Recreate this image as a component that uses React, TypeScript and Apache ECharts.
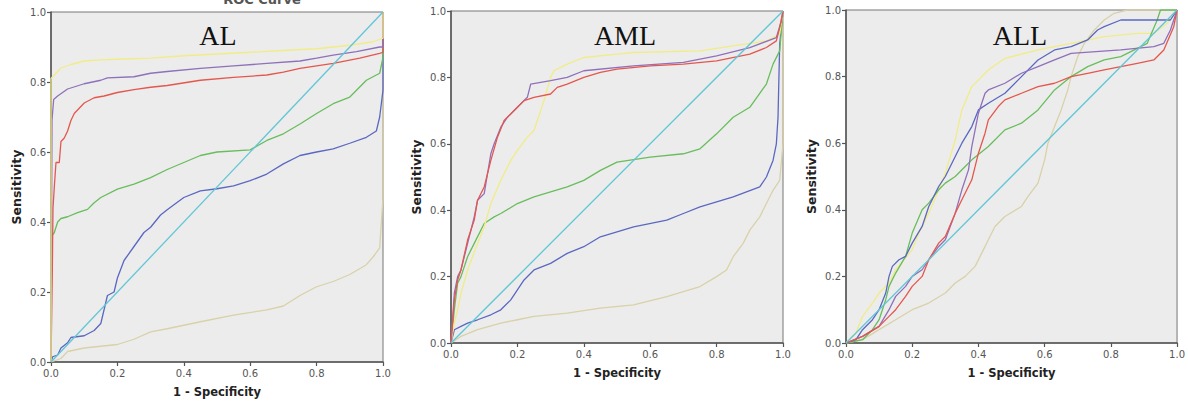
import React, { useEffect, useRef } from "react";
import * as echarts from "echarts";

const PANEL_TITLES = ["AL", "AML", "ALL"];
const TOP_CAPTION = "ROC Curve";
const X_NAME = "1 - Specificity";
const Y_NAME = "Sensitivity";
const TICK_INTERVAL = 0.2;

const DIAG = [[0, 0], [1, 1]];

// ---- AL ----
const AL_YELLOW = [[0, 0], [0, 0.81], [0.01, 0.82], [0.03, 0.84], [0.06, 0.85], [0.1, 0.86], [0.15, 0.863], [0.2, 0.865], [0.3, 0.868], [0.4, 0.875], [0.5, 0.88], [0.6, 0.885], [0.7, 0.89], [0.8, 0.895], [0.9, 0.905], [0.97, 0.915], [1, 0.925], [1, 1]];
const AL_PURPLE = [[0, 0], [0.003, 0.69], [0.008, 0.75], [0.02, 0.76], [0.05, 0.78], [0.1, 0.795], [0.15, 0.805], [0.17, 0.812], [0.25, 0.815], [0.3, 0.825], [0.35, 0.83], [0.45, 0.839], [0.55, 0.846], [0.65, 0.853], [0.75, 0.86], [0.8, 0.868], [0.85, 0.877], [0.92, 0.887], [0.99, 0.9], [1, 0.9], [1, 1]];
const AL_RED = [[0, 0], [0.004, 0.26], [0.006, 0.44], [0.01, 0.5], [0.015, 0.57], [0.025, 0.57], [0.03, 0.63], [0.04, 0.64], [0.05, 0.66], [0.06, 0.69], [0.07, 0.71], [0.08, 0.72], [0.1, 0.74], [0.13, 0.755], [0.16, 0.76], [0.2, 0.77], [0.25, 0.778], [0.3, 0.785], [0.35, 0.79], [0.45, 0.805], [0.55, 0.813], [0.65, 0.82], [0.7, 0.828], [0.75, 0.839], [0.85, 0.853], [0.93, 0.868], [0.99, 0.882], [1, 0.885], [1, 1]];
const AL_GREEN = [[0, 0], [0.002, 0.36], [0.01, 0.37], [0.02, 0.4], [0.03, 0.41], [0.05, 0.415], [0.08, 0.427], [0.11, 0.436], [0.13, 0.455], [0.15, 0.47], [0.2, 0.494], [0.25, 0.508], [0.3, 0.527], [0.35, 0.55], [0.4, 0.57], [0.45, 0.59], [0.5, 0.6], [0.6, 0.606], [0.65, 0.633], [0.7, 0.652], [0.75, 0.68], [0.8, 0.71], [0.85, 0.738], [0.9, 0.757], [0.95, 0.805], [0.99, 0.825], [1, 0.87], [1, 1]];
const AL_BLUE = [[0, 0], [0.005, 0.015], [0.02, 0.02], [0.03, 0.04], [0.05, 0.055], [0.06, 0.07], [0.1, 0.075], [0.13, 0.09], [0.15, 0.11], [0.16, 0.15], [0.17, 0.19], [0.19, 0.2], [0.2, 0.24], [0.22, 0.29], [0.25, 0.33], [0.28, 0.37], [0.3, 0.385], [0.33, 0.42], [0.35, 0.435], [0.4, 0.47], [0.45, 0.489], [0.5, 0.495], [0.55, 0.503], [0.6, 0.518], [0.65, 0.537], [0.7, 0.566], [0.75, 0.59], [0.8, 0.6], [0.85, 0.609], [0.9, 0.625], [0.95, 0.642], [0.98, 0.66], [0.99, 0.7], [1, 0.777], [1, 1]];
const AL_TAN = [[0, 0], [0.03, 0.01], [0.05, 0.03], [0.1, 0.04], [0.2, 0.05], [0.25, 0.065], [0.3, 0.086], [0.35, 0.095], [0.4, 0.105], [0.45, 0.115], [0.55, 0.134], [0.65, 0.149], [0.7, 0.16], [0.75, 0.19], [0.8, 0.215], [0.85, 0.23], [0.9, 0.25], [0.95, 0.278], [0.97, 0.3], [0.99, 0.326], [1, 0.47], [1, 1]];

// ---- AML ----
const AML_YELLOW = [[0, 0], [0.01, 0.06], [0.02, 0.1], [0.03, 0.15], [0.05, 0.22], [0.08, 0.3], [0.1, 0.35], [0.12, 0.42], [0.15, 0.49], [0.18, 0.55], [0.2, 0.58], [0.23, 0.62], [0.25, 0.64], [0.27, 0.7], [0.28, 0.73], [0.3, 0.8], [0.31, 0.82], [0.35, 0.84], [0.4, 0.86], [0.5, 0.87], [0.55, 0.875], [0.75, 0.88], [0.85, 0.895], [0.95, 0.91], [0.99, 0.93], [1, 1]];
const AML_PURPLE = [[0, 0], [0.01, 0.15], [0.02, 0.2], [0.03, 0.22], [0.05, 0.3], [0.07, 0.38], [0.08, 0.43], [0.1, 0.45], [0.12, 0.57], [0.13, 0.6], [0.15, 0.65], [0.17, 0.68], [0.2, 0.71], [0.23, 0.74], [0.24, 0.78], [0.3, 0.79], [0.35, 0.8], [0.4, 0.82], [0.55, 0.835], [0.7, 0.845], [0.8, 0.865], [0.9, 0.89], [0.98, 0.92], [0.995, 0.97], [1, 1]];
const AML_RED = [[0, 0], [0.01, 0.13], [0.02, 0.19], [0.03, 0.22], [0.05, 0.31], [0.07, 0.37], [0.08, 0.43], [0.1, 0.47], [0.12, 0.55], [0.14, 0.62], [0.16, 0.67], [0.18, 0.69], [0.2, 0.71], [0.22, 0.73], [0.25, 0.74], [0.3, 0.75], [0.32, 0.77], [0.35, 0.78], [0.4, 0.8], [0.45, 0.815], [0.5, 0.825], [0.6, 0.835], [0.7, 0.84], [0.8, 0.85], [0.9, 0.87], [0.95, 0.89], [0.98, 0.91], [0.99, 0.95], [1, 1]];
const AML_GREEN = [[0, 0], [0.01, 0.1], [0.02, 0.18], [0.03, 0.2], [0.05, 0.26], [0.07, 0.3], [0.1, 0.36], [0.13, 0.38], [0.15, 0.39], [0.2, 0.42], [0.25, 0.44], [0.3, 0.455], [0.35, 0.47], [0.4, 0.49], [0.45, 0.52], [0.5, 0.545], [0.6, 0.56], [0.7, 0.57], [0.75, 0.585], [0.8, 0.63], [0.85, 0.68], [0.9, 0.71], [0.95, 0.78], [0.97, 0.84], [0.99, 0.88], [1, 1]];
const AML_BLUE = [[0, 0], [0.01, 0.04], [0.03, 0.05], [0.05, 0.06], [0.08, 0.07], [0.12, 0.085], [0.15, 0.1], [0.18, 0.13], [0.2, 0.16], [0.22, 0.19], [0.25, 0.22], [0.3, 0.24], [0.35, 0.27], [0.4, 0.29], [0.45, 0.32], [0.55, 0.35], [0.65, 0.37], [0.7, 0.39], [0.75, 0.41], [0.85, 0.44], [0.93, 0.47], [0.95, 0.5], [0.97, 0.55], [0.98, 0.6], [0.985, 0.68], [0.99, 0.9], [1, 1]];
const AML_TAN = [[0, 0], [0.03, 0.02], [0.08, 0.04], [0.15, 0.06], [0.2, 0.07], [0.25, 0.08], [0.35, 0.09], [0.45, 0.105], [0.55, 0.115], [0.65, 0.14], [0.75, 0.17], [0.8, 0.2], [0.83, 0.22], [0.85, 0.26], [0.88, 0.3], [0.9, 0.34], [0.93, 0.38], [0.95, 0.42], [0.97, 0.46], [0.99, 0.49], [1, 0.6], [1, 1]];

// ---- ALL ----
const ALL_YELLOW = [[0, 0], [0.03, 0.03], [0.05, 0.08], [0.08, 0.12], [0.1, 0.15], [0.13, 0.18], [0.15, 0.22], [0.2, 0.28], [0.22, 0.33], [0.25, 0.39], [0.28, 0.46], [0.3, 0.51], [0.33, 0.61], [0.35, 0.7], [0.38, 0.77], [0.43, 0.82], [0.48, 0.855], [0.58, 0.88], [0.68, 0.9], [0.78, 0.92], [0.88, 0.93], [0.93, 0.93], [0.97, 0.96], [1, 1]];
const ALL_BLUE = [[0, 0], [0.03, 0.01], [0.05, 0.04], [0.08, 0.07], [0.1, 0.1], [0.12, 0.15], [0.13, 0.2], [0.14, 0.23], [0.16, 0.25], [0.18, 0.26], [0.2, 0.3], [0.23, 0.35], [0.25, 0.41], [0.28, 0.47], [0.3, 0.5], [0.33, 0.56], [0.35, 0.6], [0.38, 0.65], [0.4, 0.7], [0.43, 0.72], [0.48, 0.75], [0.53, 0.8], [0.58, 0.85], [0.63, 0.88], [0.68, 0.89], [0.73, 0.91], [0.76, 0.94], [0.78, 0.95], [0.83, 0.97], [0.98, 0.97], [1, 1]];
const ALL_PURPLE = [[0, 0], [0.05, 0.02], [0.1, 0.05], [0.13, 0.1], [0.15, 0.14], [0.18, 0.17], [0.2, 0.2], [0.23, 0.22], [0.25, 0.25], [0.28, 0.29], [0.3, 0.31], [0.33, 0.39], [0.35, 0.46], [0.37, 0.52], [0.38, 0.59], [0.4, 0.69], [0.42, 0.75], [0.43, 0.76], [0.48, 0.78], [0.53, 0.81], [0.58, 0.83], [0.63, 0.85], [0.68, 0.87], [0.83, 0.88], [0.93, 0.89], [0.96, 0.9], [0.98, 0.94], [1, 1]];
const ALL_RED = [[0, 0], [0.05, 0.02], [0.1, 0.05], [0.13, 0.08], [0.15, 0.1], [0.18, 0.14], [0.2, 0.17], [0.23, 0.2], [0.25, 0.25], [0.28, 0.3], [0.3, 0.32], [0.33, 0.39], [0.35, 0.43], [0.38, 0.49], [0.4, 0.57], [0.42, 0.63], [0.43, 0.67], [0.46, 0.71], [0.48, 0.73], [0.53, 0.75], [0.58, 0.77], [0.63, 0.78], [0.68, 0.8], [0.73, 0.81], [0.78, 0.82], [0.83, 0.83], [0.88, 0.84], [0.93, 0.85], [0.96, 0.88], [0.99, 0.95], [1, 1]];
const ALL_GREEN = [[0, 0], [0.05, 0.01], [0.08, 0.04], [0.1, 0.07], [0.12, 0.13], [0.13, 0.17], [0.15, 0.21], [0.18, 0.26], [0.2, 0.33], [0.23, 0.4], [0.25, 0.42], [0.28, 0.46], [0.3, 0.48], [0.33, 0.5], [0.36, 0.53], [0.38, 0.55], [0.43, 0.59], [0.48, 0.64], [0.53, 0.66], [0.58, 0.7], [0.63, 0.76], [0.68, 0.8], [0.73, 0.83], [0.78, 0.85], [0.83, 0.86], [0.88, 0.885], [0.91, 0.9], [0.94, 0.97], [0.95, 1], [1, 1]];
const ALL_TAN = [[0, 0], [0.05, 0.01], [0.1, 0.04], [0.15, 0.07], [0.2, 0.1], [0.25, 0.12], [0.3, 0.15], [0.33, 0.18], [0.36, 0.2], [0.39, 0.23], [0.41, 0.27], [0.43, 0.31], [0.45, 0.35], [0.48, 0.38], [0.53, 0.41], [0.55, 0.44], [0.58, 0.48], [0.6, 0.55], [0.61, 0.6], [0.63, 0.65], [0.65, 0.7], [0.67, 0.76], [0.68, 0.8], [0.7, 0.86], [0.72, 0.9], [0.75, 0.94], [0.78, 0.97], [0.81, 0.99], [0.85, 1], [1, 1]];

const COLORS = {
  yellow: "#f1ec86",
  purple: "#8f70ba",
  red: "#e5574e",
  green: "#68bd5c",
  blue: "#5a68c2",
  tan: "#d9d1a8",
  cyan: "#62c6d6",
};

const PANELS = [
  { title: PANEL_TITLES[0], curves: [["tan", AL_TAN], ["blue", AL_BLUE], ["green", AL_GREEN], ["red", AL_RED], ["purple", AL_PURPLE], ["yellow", AL_YELLOW], ["cyan", DIAG]] },
  { title: PANEL_TITLES[1], curves: [["tan", AML_TAN], ["blue", AML_BLUE], ["green", AML_GREEN], ["yellow", AML_YELLOW], ["purple", AML_PURPLE], ["red", AML_RED], ["cyan", DIAG]] },
  { title: PANEL_TITLES[2], curves: [["tan", ALL_TAN], ["yellow", ALL_YELLOW], ["green", ALL_GREEN], ["blue", ALL_BLUE], ["purple", ALL_PURPLE], ["red", ALL_RED], ["cyan", DIAG]] },
];

const GRIDS = [
  { left: 51, top: 12, width: 332, height: 350 },
  { left: 451, top: 11, width: 332, height: 332 },
  { left: 846, top: 10, width: 335, height: 333 },
];
const TITLE_CENTERS = [213, 620, 1015];

export default function App() {
  const ref = useRef<HTMLDivElement>(null);
  useEffect(() => {
    document.body.style.margin = "0";
    document.body.style.background = "#ffffff";
    const chart = echarts.init(ref.current!, null, { renderer: "svg" });
    const axisColor = "#555";
    const grid = GRIDS.map((g) => ({
      ...g,
      show: true,
      backgroundColor: "#ececec",
      borderColor: "#777",
      borderWidth: 1,
      containLabel: false,
    }));
    const xAxis = GRIDS.map((_, i) => ({
      type: "value",
      gridIndex: i,
      min: 0,
      max: 1,
      interval: TICK_INTERVAL,
      name: X_NAME,
      nameLocation: "middle",
      nameGap: 24,
      nameTextStyle: { fontWeight: "bold", fontSize: 11.5, color: "#222", fontFamily: "DejaVu Sans" },
      axisLine: { show: true, onZero: false, lineStyle: { color: axisColor, width: 1.5 } },
      axisTick: { show: true, length: 4, lineStyle: { color: axisColor, width: 1.2 } },
      axisLabel: { formatter: (v: number) => v.toFixed(1), color: "#555", fontSize: 10, fontFamily: "DejaVu Sans", margin: 6 },
      splitLine: { show: false },
    }));
    const yAxis = GRIDS.map((_, i) => ({
      type: "value",
      gridIndex: i,
      min: 0,
      max: 1,
      interval: TICK_INTERVAL,
      name: Y_NAME,
      nameLocation: "middle",
      nameGap: 28,
      nameRotate: 90,
      nameTextStyle: { fontWeight: "bold", fontSize: 12.5, color: "#222", fontFamily: "DejaVu Sans" },
      axisLine: { show: true, onZero: false, lineStyle: { color: axisColor, width: 1.5 } },
      axisTick: { show: true, length: 4, lineStyle: { color: axisColor, width: 1.2 } },
      axisLabel: { formatter: (v: number) => v.toFixed(1), color: "#555", fontSize: 10, fontFamily: "DejaVu Sans", margin: 5 },
      splitLine: { show: false },
    }));
    const series: any[] = [];
    PANELS.forEach((p, i) => {
      p.curves.forEach(([c, data]: any) => {
        series.push({
          type: "line",
          xAxisIndex: i,
          yAxisIndex: i,
          data,
          showSymbol: false,
          symbol: "none",
          lineStyle: { color: (COLORS as any)[c], width: 1.3 },
          silent: true,
          z: c === "cyan" ? 5 : 3,
        });
      });
    });
    const title = PANELS.map((p, i) => ({
      text: p.title,
      left: TITLE_CENTERS[i],
      top: 16,
      textAlign: "center",
      textStyle: { fontFamily: "Liberation Serif", fontWeight: "normal", fontSize: 28, color: "#111" },
    }));
    title.push({
      text: TOP_CAPTION,
      left: 257,
      top: -12,
      textAlign: "center",
      textStyle: { fontFamily: "DejaVu Sans", fontWeight: "bold", fontSize: 13, color: "#555" },
    } as any);
    chart.setOption({
      animation: false,
      backgroundColor: "#ffffff",
      title,
      grid,
      xAxis,
      yAxis,
      series,
    });
    return () => chart.dispose();
  }, []);
  return <div ref={ref} style={{ width: 1188, height: 405 }} />;
}
